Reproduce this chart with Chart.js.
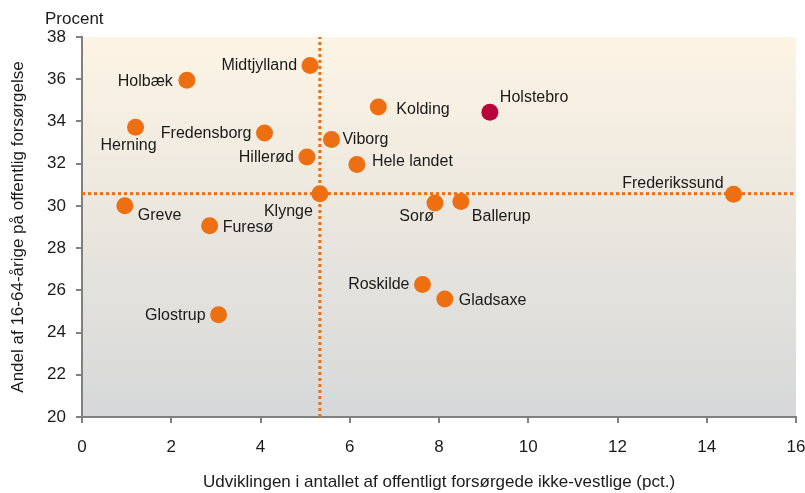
<!DOCTYPE html>
<html><head><meta charset="utf-8">
<script src="https://cdn.jsdelivr.net/npm/chart.js@4/dist/chart.umd.min.js"></script>
<style>html,body{margin:0;padding:0;background:#fff}#wrap{width:805px;height:493px;position:relative}</style>
</head><body><div id="wrap"><canvas id="c" width="805" height="493"></canvas></div>
<script>
const names = ["Holbæk","Midtjylland","Herning","Fredensborg","Hillerød","Viborg","Kolding","Hele landet","Klynge","Greve","Furesø","Glostrup","Holstebro","Sorø","Ballerup","Frederikssund","Roskilde","Gladsaxe"];
const xValues = [2.35,5.11,1.20,4.09,5.04,5.59,6.64,6.16,5.33,0.96,2.86,3.06,9.14,7.91,8.49,14.60,7.63,8.13];
const yValues = [35.95,36.65,33.73,33.45,32.32,33.14,34.68,31.96,30.58,30.01,29.06,24.84,34.44,30.14,30.21,30.55,26.28,25.59];
const highlight = "Holstebro";
const refX = 5.33;
const refY = 30.58;
const xTicks = [0,2,4,6,8,10,12,14,16];
const yTicks = [20,22,24,26,28,30,32,34,36,38];
const xTitle = "Udviklingen i antallet af offentligt forsørgede ikke-vestlige (pct.)";
const yTitle = "Andel af 16-64-årige på offentlig forsørgelse";
const unitLabel = "Procent";

// label placement (style only): [dx, dy, align]
const labelPos = {
  "Holbæk":[-14,1,"right"], "Midtjylland":[-13,0,"right"], "Herning":[-7,18,"center"],
  "Fredensborg":[-13,1,"right"], "Hillerød":[-13,1,"right"], "Viborg":[11,0,"left"],
  "Kolding":[18,3,"left"], "Hele landet":[15,-3,"left"], "Klynge":[-7,18,"right"],
  "Greve":[13,10,"left"], "Furesø":[13,2,"left"], "Glostrup":[-13,1,"right"],
  "Holstebro":[10,-15,"left"], "Sorø":[-1,14,"right"], "Ballerup":[11,15,"left"],
  "Frederikssund":[-10,-11,"right"], "Roskilde":[-13,0,"right"], "Gladsaxe":[14,2,"left"]
};
const ORANGE = "#ED6F12", RED = "#B8043A", AXIS = "#808080";
const FONT = "'Liberation Sans', Arial, sans-serif";

const bgPlugin = {
  id:"bg",
  beforeDraw(chart){
    const {ctx, chartArea:a} = chart;
    const g = ctx.createLinearGradient(0,a.top,0,a.bottom);
    g.addColorStop(0,"#FDF4E4"); g.addColorStop(1,"#D6D8D9");
    ctx.save(); ctx.fillStyle=g; ctx.fillRect(a.left,a.top,a.right-a.left,a.bottom-a.top); ctx.restore();
  }
};
const labelPlugin = {
  id:"labels",
  afterDatasetsDraw(chart){
    const {ctx} = chart;
    const meta = chart.getDatasetMeta(0);
    ctx.save();
    ctx.font = "16px " + FONT; ctx.fillStyle = "#1a1a1a"; ctx.textBaseline = "middle";
    meta.data.forEach((pt,i)=>{
      const p = labelPos[names[i]] || [10,0,"left"];
      ctx.textAlign = p[2];
      ctx.fillText(names[i], pt.x + p[0], pt.y + p[1]);
    });
    ctx.font = "17px " + FONT; ctx.textAlign="left"; ctx.fillStyle="#1a1a1a";
    ctx.fillText(unitLabel, 45, 19);
    ctx.restore();
  }
};

new Chart(document.getElementById("c"), {
  type:"scatter",
  data:{datasets:[
    {label:"kommuner", data:names.map((n,i)=>({x:xValues[i],y:yValues[i]})),
     pointRadius:8.5, pointHoverRadius:8.5, borderWidth:0,
     pointBackgroundColor:names.map(n=>n===highlight?RED:ORANGE), order:1},
    {type:"line", label:"vref", data:[{x:refX,y:20},{x:refX,y:38}], borderColor:ORANGE, borderWidth:3,
     borderDash:[3,3], pointRadius:0, fill:false, order:2},
    {type:"line", label:"href", data:[{x:0,y:refY},{x:16,y:refY}], borderColor:ORANGE, borderWidth:3,
     borderDash:[3,3], pointRadius:0, fill:false, order:2}
  ]},
  options:{
    responsive:false, animation:false,
    layout:{padding:{top:37,right:9,left:0,bottom:0}},
    plugins:{legend:{display:false}, tooltip:{enabled:false}},
    scales:{
      x:{type:"linear", min:0, max:16,
        afterBuildTicks(s){ s.ticks = xTicks.map(v=>({value:v})); },
        afterFit(s){ s.height = 76; s.paddingLeft = 0; s.paddingRight = 0; },
        ticks:{font:{size:17,family:FONT}, color:"#1a1a1a", padding:14, maxRotation:0},
        grid:{drawOnChartArea:false, drawTicks:true, tickLength:6, color:AXIS, lineWidth:2},
        border:{color:AXIS, width:2},
        title:{display:true, text:xTitle, font:{size:17,family:FONT}, color:"#1a1a1a", padding:{top:14,bottom:0}}
      },
      y:{type:"linear", min:20, max:38,
        afterBuildTicks(s){ s.ticks = yTicks.map(v=>({value:v})); },
        afterFit(s){ s.width = 82; s.paddingTop = 0; s.paddingBottom = 0; },
        ticks:{font:{size:17,family:FONT}, color:"#1a1a1a", padding:10},
        grid:{drawOnChartArea:false, drawTicks:true, tickLength:6, color:AXIS, lineWidth:2},
        border:{color:AXIS, width:2},
        title:{display:true, text:yTitle, font:{size:17,family:FONT}, color:"#1a1a1a", padding:{top:8,bottom:0}}
      }
    }
  },
  plugins:[bgPlugin, labelPlugin]
});
</script></body></html>
